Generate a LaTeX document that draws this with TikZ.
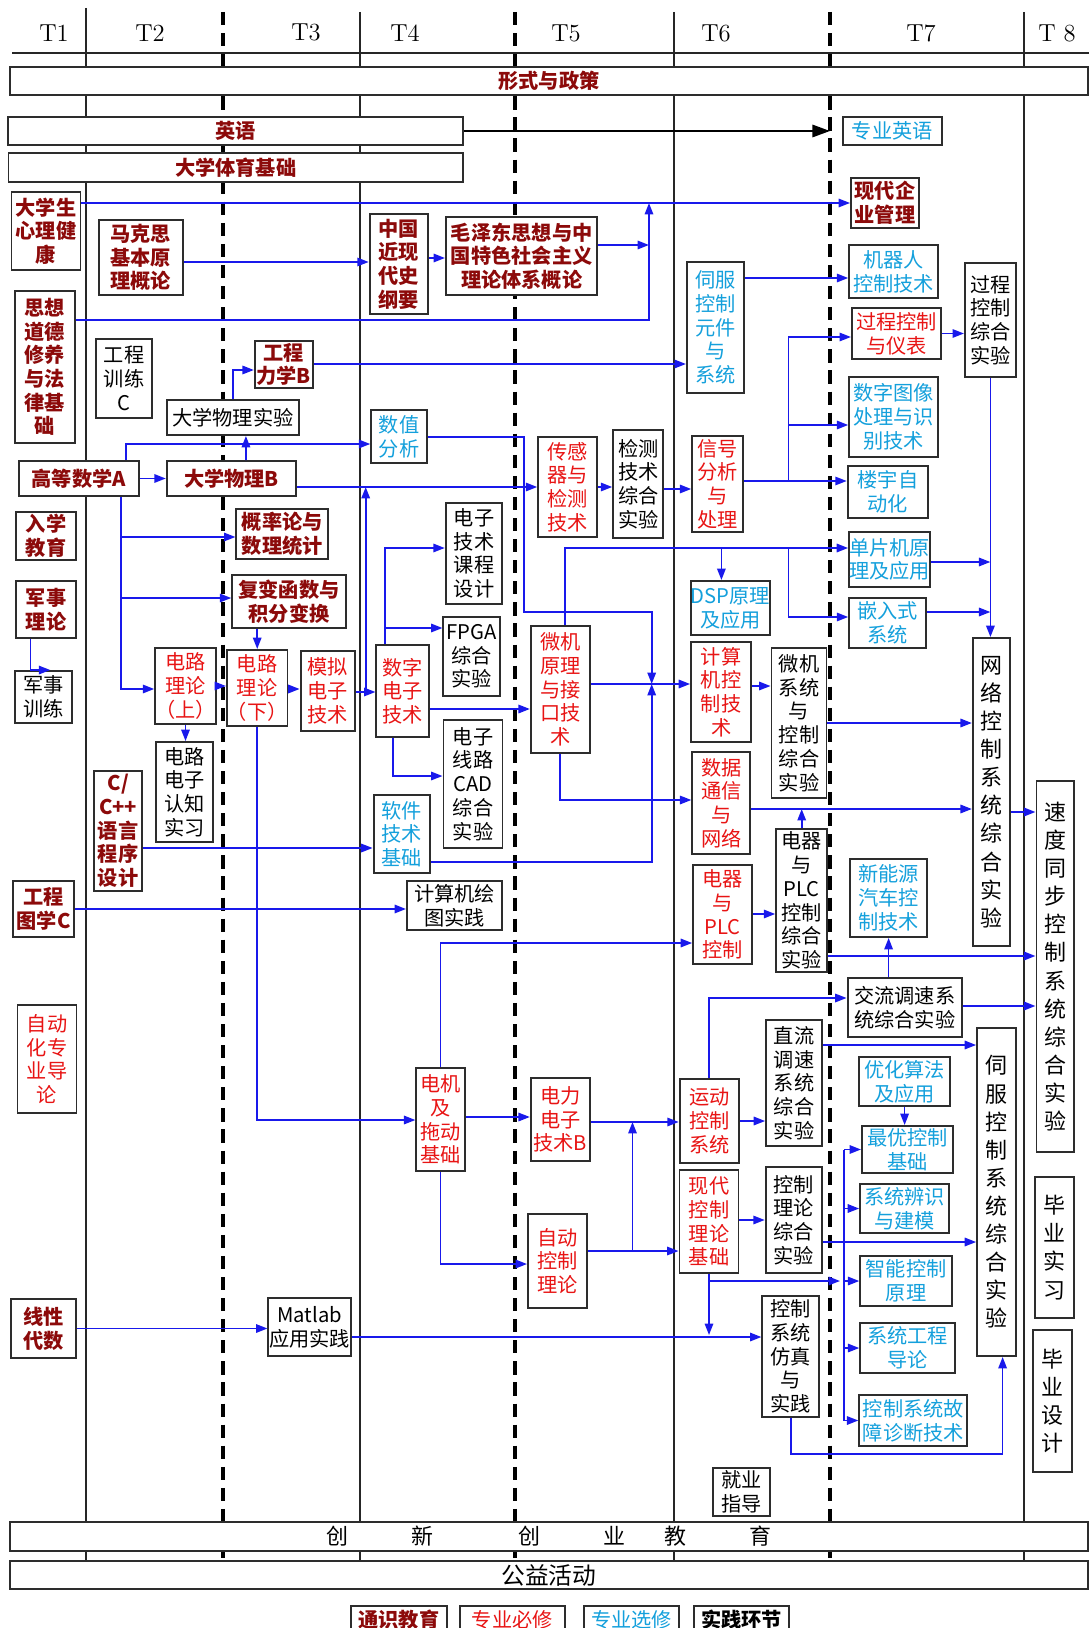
\documentclass[tikz,border=0pt]{standalone}
\usepackage{fontspec}
\newfontfamily\cjk{Noto Sans CJK SC}
\usepackage{tikz}
\usetikzlibrary{arrows.meta, positioning, calc, backgrounds}
\definecolor{genred}{RGB}{140, 10, 10}
\definecolor{corered}{RGB}{232, 20, 20}
\definecolor{electcyan}{RGB}{20, 160, 220}
\definecolor{flowblue}{RGB}{25, 25, 235}
\definecolor{boxgray}{RGB}{45, 45, 45}
\tikzset{
  >=Stealth,
  flowarrow/.style={-{Triangle[length=6.5pt, width=4.8pt]}, line width=1pt, flowblue},
  flowline/.style={line width=1pt, flowblue},
  bigarrow/.style={-{Triangle[length=10pt, width=7pt]}, line width=1.2pt, black},
  termline/.style={line width=0.9pt, black!85},
  termdash/.style={line width=2pt, black, dash pattern=on 7.5pt off 4.5pt}
}

\begin{document}
\begin{tikzpicture}[
    x=0.02cm, y=-0.02cm,
    course/.style={rectangle, draw=boxgray, line width=1.1pt, fill=white, align=center, inner sep=0pt, font=\cjk\fontsize{11.5}{13.5}\selectfont},
    general/.style={course, text=genred, font=\cjk\bfseries\fontsize{11.5}{13.5}\selectfont},
    core/.style={course, text=corered},
    elective/.style={course, text=electcyan},
    practice/.style={course, text=black},
    upright/.style={font=\cjk\fontsize{12.5}{16}\selectfont},
    term/.style={font=\fontsize{14}{16}\selectfont}
]
    \useasboundingbox (0,0) rectangle (1089,1628);

    % Semester header
    \node[term] (sem1) at (54,33) {T1};
    \node[term] (sem2) at (150,33) {T2};
    \node[term] (sem3) at (306,32) {T3};
    \node[term] (sem4) at (405,33) {T4};
    \node[term] (sem5) at (566,33) {T5};
    \node[term] (sem6) at (716,33) {T6};
    \node[term] (sem7) at (921,33) {T7};
    \node[term] (sem8) at (1057,33) {T 8};
    \coordinate (sem67) at (830,0);

    % Bars
    \node[general, minimum width=21.57cm, minimum height=0.56cm] (xszc) at (548.9,81) {形式与政策};
    \node[general, minimum width=9.11cm, minimum height=0.56cm] (yingyu) at (235.3,131) {英语};
    \node[general, minimum width=9.09cm, minimum height=0.58cm] (tiyu) at (235.7,167.5) {大学体育基础};
    \node[practice, font=\cjk\fontsize{12.5}{14}\selectfont, minimum width=21.57cm, minimum height=0.58cm] (cxcy) at (548.9,1536.5) {创\hspace{1.25cm}新\hspace{1.7cm}创\hspace{1.27cm}业\hspace{0.78cm}教\hspace{1.25cm}育};
    \node[practice, font=\cjk\fontsize{13.5}{15}\selectfont, minimum width=21.57cm, minimum height=0.56cm] (gyhd) at (548.9,1575) {公益活动};

    % T1 - T2
    \node[general, minimum width=1.38cm, minimum height=1.56cm] (xinli) at (46,231) {大学生\\心理健\\康};
    \node[general, minimum width=1.19cm, minimum height=3.04cm] (sixiang) at (44.9,367) {思想\\道德\\修养\\与法\\律基\\础};
    \node[general, minimum width=2.4cm, minimum height=0.7cm] (gaoshu) at (78.8,478.5) {高等数学A};
    \node[general, minimum width=1.19cm, minimum height=0.96cm] (ruxue) at (46,536) {入学\\教育};
    \node[general, minimum width=1.19cm, minimum height=1.14cm] (junli) at (46,609.5) {军事\\理论};
    \node[practice, minimum width=1.13cm, minimum height=1.04cm] (junxun) at (43.3,697) {军事\\训练};
    \node[general, minimum width=1.22cm, minimum height=1.12cm] (tuxue) at (43.6,909) {工程\\图学C};
    \node[core, minimum width=1.18cm, minimum height=2.16cm] (daolun) at (47,1059) {自动\\化专\\业导\\论};
    \node[general, minimum width=1.29cm, minimum height=1.18cm] (xianxing) at (43.3,1328.5) {线性\\代数};
    \node[general, minimum width=1.67cm, minimum height=1.5cm] (makesi) at (140.8,257.5) {马克思\\基本原\\理概论};
    \node[practice, minimum width=1.13cm, minimum height=1.58cm] (xunlian) at (124,378.5) {工程\\训练\\C};
    \node[practice, minimum width=2.64cm, minimum height=0.7cm] (wlsy) at (232.9,417.5) {大学物理实验};
    \node[general, minimum width=2.59cm, minimum height=0.7cm] (wuliB) at (231.5,478.5) {大学物理B};
    \node[core, minimum width=1.09cm, minimum height=1.52cm] (dianluS) at (185.5,686) {电路\\理论\\（上）};
    \node[practice, minimum width=1.13cm, minimum height=2cm] (renzhi) at (184.6,792) {电路\\电子\\认知\\实习};
    \node[general, minimum width=0.97cm, minimum height=2.4cm] (cyy) at (118.2,831) {C/\\C++\\语言\\程序\\设计};

    % T3 - T4
    \node[general, minimum width=1.16cm, minimum height=0.94cm] (lixueB) at (283.8,364.5) {工程\\力学B};
    \node[general, minimum width=1.84cm, minimum height=1cm] (gailv) at (282.4,534) {概率论与\\数理统计};
    \node[general, minimum width=2.27cm, minimum height=1.06cm] (fubian) at (289,601.5) {复变函数与\\积分变换};
    \node[core, minimum width=1.07cm, minimum height=1.52cm] (dianluX) at (257.2,688) {电路\\理论\\（下）};
    \node[core, minimum width=1.08cm, minimum height=1.6cm] (moni) at (327.6,691) {模拟\\电子\\技术};
    \node[practice, minimum width=1.65cm, minimum height=1.16cm] (matlab) at (309.7,1327) {Matlab\\应用实践};
    \node[general, minimum width=1.17cm, minimum height=2cm] (jindai) at (398.9,264) {中国\\近现\\代史\\纲要};
    \node[general, minimum width=3.03cm, minimum height=1.56cm] (maozd) at (521.7,256) {毛泽东思想与中\\国特色社会主义\\理论体系概论};
    \node[elective, minimum width=1.11cm, minimum height=1.06cm] (shuzhi) at (399,436.5) {数值\\分析};
    \node[core, minimum width=1.06cm, minimum height=1.84cm] (shuzi) at (402.9,691) {数字\\电子\\技术};
    \node[practice, minimum width=1.13cm, minimum height=2.02cm] (kcsj) at (474,553.5) {电子\\技术\\课程\\设计};
    \node[practice, minimum width=1.13cm, minimum height=1.58cm] (fpga) at (471.7,656.5) {FPGA\\综合\\实验};
    \node[practice, minimum width=1.18cm, minimum height=2.56cm] (cad) at (473,784) {电子\\线路\\CAD\\综合\\实验};
    \node[elective, minimum width=1.13cm, minimum height=1.56cm] (ruanjian) at (401.8,834) {软件\\技术\\基础};
    \node[practice, minimum width=1.91cm, minimum height=0.98cm] (huitu) at (454.7,905.5) {计算机绘\\图实践};
    \node[core, minimum width=0.97cm, minimum height=2.06cm] (dianji) at (440.6,1119.5) {电机\\及\\拖动\\基础};

    % T5 - T6
    \node[core, minimum width=1.18cm, minimum height=2cm] (chuangan) at (567.7,487) {传感\\器与\\检测\\技术};
    \node[practice, minimum width=1cm, minimum height=2.16cm] (jiance) at (638.2,484) {检测\\技术\\综合\\实验};
    \node[core, minimum width=1.18cm, minimum height=2.54cm] (weiji) at (560.3,689.5) {微机\\原理\\与接\\口技\\术};
    \node[core, minimum width=1.18cm, minimum height=1.66cm] (dianli) at (560.3,1119.5) {电力\\电子\\技术B};
    \node[core, minimum width=1.18cm, minimum height=1.88cm] (zidong) at (557.5,1261) {自动\\控制\\理论};
    \node[elective, minimum width=1.14cm, minimum height=2.62cm] (sifu) at (715.4,327.5) {伺服\\控制\\元件\\与\\系统};
    \node[core, minimum width=1.02cm, minimum height=1.92cm] (xinhao) at (717.7,484) {信号\\分析\\与\\处理};
    \node[elective, minimum width=1.52cm, minimum height=1.08cm] (dsp) at (730.4,608) {DSP原理\\及应用};
    \node[core, minimum width=1.2cm, minimum height=2cm] (jisuanji) at (721.1,692) {计算\\机控\\制技\\术};
    \node[core, minimum width=1.16cm, minimum height=2.04cm] (shuju) at (721.3,803) {数据\\通信\\与\\网络};
    \node[core, minimum width=1.18cm, minimum height=1.98cm] (dianqi) at (722.6,914.5) {电器\\与\\PLC\\控制};
    \node[core, minimum width=1.18cm, minimum height=1.68cm] (yundong) at (709.2,1121) {运动\\控制\\系统};
    \node[core, minimum width=1.18cm, minimum height=2.06cm] (xiandai) at (709,1221.5) {现代\\控制\\理论\\基础};
    \node[practice, minimum width=1.1cm, minimum height=3cm] (wjzh) at (799,723) {微机\\系统\\与\\控制\\综合\\实验};
    \node[practice, minimum width=1.02cm, minimum height=2.86cm] (plczh) at (801.7,900.5) {电器\\与\\PLC\\控制\\综合\\实验};
    \node[practice, minimum width=1.12cm, minimum height=2.52cm] (zhiliu) at (794.1,1083) {直流\\调速\\系统\\综合\\实验};
    \node[practice, minimum width=1.12cm, minimum height=2.12cm] (kzll) at (793.7,1220) {控制\\理论\\综合\\实验};
    \node[practice, minimum width=1.14cm, minimum height=2.42cm] (fangzhen) at (790.9,1356.5) {控制\\系统\\仿真\\与\\实践};
    \node[practice, minimum width=1.13cm, minimum height=0.96cm] (jiuye) at (741.3,1492) {就业\\指导};

    % T7 - T8
    \node[elective, minimum width=1.97cm, minimum height=0.56cm] (zyyy) at (892.3,131) {专业英语};
    \node[general, minimum width=1.36cm, minimum height=1cm] (xdqy) at (885,203) {现代企\\业管理};
    \node[elective, minimum width=1.78cm, minimum height=1.06cm] (jiqiren) at (893.7,271.5) {机器人\\控制技术};
    \node[core, minimum width=1.78cm, minimum height=1.02cm] (guocheng) at (896.4,333.5) {过程控制\\与仪表};
    \node[practice, minimum width=1.02cm, minimum height=2.28cm] (gczh) at (990.4,320) {过程\\控制\\综合\\实验};
    \node[elective, minimum width=1.78cm, minimum height=1.6cm] (tuxiang) at (893.7,417) {数字图像\\处理与识\\别技术};
    \node[elective, minimum width=1.61cm, minimum height=1.04cm] (louyu) at (887.9,492) {楼宇自\\动化};
    \node[elective, minimum width=1.62cm, minimum height=1.1cm] (danpian) at (889.6,559.5) {单片机原\\理及应用};
    \node[elective, minimum width=1.54cm, minimum height=1cm] (qianru) at (887.7,623) {嵌入式\\系统};
    \node[elective, minimum width=1.54cm, minimum height=1.56cm] (xinneng) at (888.6,898) {新能源\\汽车控\\制技术};
    \node[practice, minimum width=2.29cm, minimum height=1.18cm] (jiaoliu) at (904.8,1007.5) {交流调速系\\统综合实验};
    \node[elective, minimum width=1.81cm, minimum height=0.98cm] (youhua) at (904.6,1081.5) {优化算法\\及应用};
    \node[elective, minimum width=1.83cm, minimum height=0.94cm] (zuiyou) at (907.7,1149.5) {最优控制\\基础};
    \node[elective, minimum width=1.78cm, minimum height=0.98cm] (bianshi) at (904.6,1208.5) {系统辨识\\与建模};
    \node[elective, minimum width=1.83cm, minimum height=1cm] (zhineng) at (906,1281) {智能控制\\原理};
    \node[elective, minimum width=1.89cm, minimum height=1cm] (xtgc) at (907.5,1348) {系统工程\\导论};
    \node[elective, minimum width=2.16cm, minimum height=1.02cm] (guzhang) at (913.3,1420.5) {控制系统故\\障诊断技术};
    \node[practice, upright, minimum width=0.75cm, minimum height=6.16cm] (wangluo) at (991.6,792) {网\\络\\控\\制\\系\\统\\综\\合\\实\\验};
    \node[practice, upright, minimum width=0.78cm, minimum height=6.56cm] (sifuzh) at (996.6,1192) {伺\\服\\控\\制\\系\\统\\综\\合\\实\\验};
    \node[practice, upright, minimum width=0.75cm, minimum height=7.42cm] (sudu) at (1055.2,966.5) {速\\度\\同\\步\\控\\制\\系\\统\\综\\合\\实\\验};
    \node[practice, upright, minimum width=0.78cm, minimum height=2.82cm] (bysx) at (1054.6,1247.5) {毕\\业\\实\\习};
    \node[practice, upright, minimum width=0.78cm, minimum height=2.84cm] (bysj) at (1052.8,1401) {毕\\业\\设\\计};

    % Legend
    \node[general, minimum width=1.91cm, minimum height=0.56cm] (lgGen) at (398.9,1620) {通识教育};
    \node[core, minimum width=2.09cm, minimum height=0.56cm] (lgCore) at (512.3,1620) {专业必修};
    \node[elective, minimum width=1.89cm, minimum height=0.56cm] (lgElec) at (631.6,1620) {专业选修};
    \node[practice, font=\cjk\bfseries\fontsize{11.5}{13.5}\selectfont, minimum width=1.9cm, minimum height=0.56cm] (lgPrac) at (741.7,1620) {实践环节};

    % Join points
    \coordinate (mzJoin) at (649,203);
    \coordinate (xhJoin) at (788.5,481);
    \coordinate (jkJoin) at (651.7,684);
    \coordinate (mnJoin) at (365.7,692);
    \coordinate (zdJoin) at (632.5,1251);
    \coordinate (xdJoin) at (844,1281);
    \coordinate (gsDown) at ([xshift=0.84cm]gaoshu.south);
    \coordinate (szUp) at ([xshift=-0.36cm]shuzi.north);
    \coordinate (wjUp) at ([xshift=0.1cm]weiji.north);
    \coordinate (dspTop) at ([xshift=-0.18cm]dsp.north);

    % Arrows
    \draw[bigarrow] (yingyu.east) -- (sem67 |- yingyu.east);
    \draw[flowarrow] (xinli.east |- xdqy.west) -- (xdqy.west);
    \draw[flowarrow] (sixiang.east |- 0,320) -| (mzJoin);
    \draw[flowarrow] (maozd.east |- 0,245) -- (mzJoin |- 0,245);
    \draw[flowarrow] (makesi.east |- 0,262) -- (jindai.west |- 0,262);
    \draw[flowarrow] (jindai.east |- 0,258) -- (maozd.west |- 0,258);
    \draw[flowarrow] (wlsy.north) |- (lixueB.west |- 0,370);
    \draw[flowarrow] (lixueB.east |- 0,364) -- (sifu.west |- 0,364);
    \draw[flowarrow] (sifu.east |- 0,278) -- (jiqiren.west |- 0,278);
    \draw[flowarrow] (guocheng.east) -- (gczh.west |- guocheng.east);
    \draw[flowarrow] (xinhao.east |- xhJoin) -- (louyu.west |- xhJoin);
    \draw[flowarrow] (xhJoin) |- (guocheng.west |- 0,337);
    \draw[flowarrow] (xhJoin |- 0,425) -- (tuxiang.west |- 0,425);
    \draw[flowarrow] (gczh.south) -- (gczh.south |- wangluo.north);
    \draw[flowarrow] (danpian.east |- 0,562) -- (gczh.south |- 0,562);
    \draw[flowarrow] (qianru.east |- 0,612) -- (gczh.south |- 0,612);

    \draw[flowarrow] (gaoshu.east) -- (wuliB.west);
    \draw[flowarrow] ([xshift=0.29cm]wuliB.north) -- ([xshift=0.26cm]wlsy.south);
    \draw[flowarrow] ([xshift=0.95cm]gaoshu.north) |- (shuzhi.west |- 0,444);
    \draw[flowarrow] (shuzhi.east |- 0,437) -| (523.8,612) -| (jkJoin);
    \draw[flowarrow] (ruanjian.east |- 0,862) -| (jkJoin);
    \draw[flowarrow] (wuliB.east |- 0,487) -- (chuangan.west |- 0,487);
    \draw[flowarrow] (moni.east |- mnJoin) -- (shuzi.west |- mnJoin);
    \draw[flowarrow] (mnJoin) -- (mnJoin |- 0,487);
    \draw[flowarrow] (gsDown) |- (dianluS.west |- 0,689);
    \draw[flowarrow] (gsDown |- 0,537) -- (gailv.west |- 0,537);
    \draw[flowarrow] (gsDown |- 0,598) -- (fubian.west |- 0,598);
    \draw[flowarrow] (dianluX.north |- fubian.south) -- (dianluX.north);
    \draw[flowarrow] (dianluS.east) -- (dianluX.west |- dianluS.east);
    \draw[flowarrow] (dianluX.east |- 0,689) -- (moni.west |- 0,689);
    \draw[flowarrow] (dianluS.south) -- (dianluS.south |- renzhi.north);
    \draw[flowarrow] ([xshift=-0.31cm]junli.south) |- ([xshift=0.14cm]junxun.north);
    \draw[flowarrow] (szUp) |- (kcsj.west |- 0,548);
    \draw[flowarrow] (szUp |- 0,628) -- (fpga.west |- 0,628);
    \draw[flowarrow] (shuzi.east |- 0,709) -- (weiji.west |- 0,709);
    \draw[flowarrow] ([xshift=-0.2cm]shuzi.south) |- (cad.west |- 0,776);
    \draw[flowarrow] (cyy.east |- 0,848) -- (ruanjian.west |- 0,848);
    \draw[flowarrow] (tuxue.east) -- (huitu.west |- tuxue.east);
    \draw[flowarrow] (dianluX.south) |- (dianji.west |- 0,1120);
    \draw[flowarrow] (dianji.north) |- (dianqi.west |- 0,943);
    \draw[flowarrow] (dianji.east |- 0,1117) -- (dianli.west |- 0,1117);
    \draw[flowarrow] (dianji.south) |- (zidong.west |- 0,1264);

    \draw[flowarrow] (chuangan.east) -- (jiance.west |- chuangan.east);
    \draw[flowarrow] (jiance.east |- 0,489) -- (xinhao.west |- 0,489);
    \draw[flowarrow] (wjUp) |- (danpian.west |- 0,548);
    \draw[flowarrow] (dspTop |- 0,548) -- (dspTop);
    \draw[flowarrow] (xhJoin |- 0,548) |- (qianru.west |- 0,617);
    \draw[flowarrow] (weiji.east |- jkJoin) -- (jisuanji.west |- jkJoin);
    \draw[flowarrow] (jisuanji.east |- 0,686) -- (wjzh.west |- 0,686);
    \draw[flowarrow] (wjzh.east) -- (wangluo.west |- wjzh.east);
    \draw[flowarrow] (weiji.south) |- (shuju.west |- 0,800);
    \draw[flowarrow] (shuju.east |- 0,809) -- (wangluo.west |- 0,809);
    \draw[flowarrow] (plczh.north) -- (plczh.north |- 0,809);
    \draw[flowarrow] (wangluo.east |- 0,812) -- (sudu.west |- 0,812);
    \draw[flowarrow] (dianqi.east |- 0,914) -- (plczh.west |- 0,914);
    \draw[flowarrow] (plczh.east |- 0,956) -- (sudu.west |- 0,956);
    \draw[flowarrow] (xinneng.south |- jiaoliu.north) -- (xinneng.south);
    \draw[flowarrow] (jiaoliu.east |- 0,1006) -- (sudu.west |- 0,1006);
    \draw[flowarrow] (yundong.north) |- (jiaoliu.west |- 0,998);
    \draw[flowarrow] (yundong.east) -- (zhiliu.west |- yundong.east);
    \draw[flowarrow] (zhiliu.east |- 0,1045) -- (sifuzh.west |- 0,1045);
    \draw[flowarrow] (youhua.south) -- (youhua.south |- zuiyou.north);
    \draw[flowarrow] (dianli.east |- 0,1122) -- (yundong.west |- 0,1122);
    \draw[flowarrow] (zidong.east |- zdJoin) -- (xiandai.west |- zdJoin);
    \draw[flowarrow] (zdJoin) -- (zdJoin |- 0,1122);
    \draw[flowarrow] (xiandai.east |- 0,1220) -- (kzll.west |- 0,1220);
    \draw[flowarrow] (kzll.east |- 0,1242) -- (sifuzh.west |- 0,1242);
    \draw[flowarrow] (xiandai.south) -- (xiandai.south |- 0,1335);
    \draw[flowarrow] (xiandai.south |- xdJoin) -- ([xshift=-0.08cm]xdJoin);
    \draw[flowline] (xdJoin |- zuiyou.west) -- (xdJoin |- guzhang.west);
    \draw[flowarrow] (xdJoin |- zuiyou.west) -- (zuiyou.west);
    \draw[flowarrow] (xdJoin |- bianshi.west) -- (bianshi.west);
    \draw[flowarrow] (xdJoin |- zhineng.west) -- (zhineng.west);
    \draw[flowarrow] (xdJoin |- xtgc.west) -- (xtgc.west);
    \draw[flowarrow] (xdJoin |- guzhang.west) -- (guzhang.west);
    \draw[flowarrow] (xianxing.east) -- (matlab.west |- xianxing.east);
    \draw[flowarrow] (matlab.east |- 0,1337) -- (fangzhen.west |- 0,1337);
    \draw[flowarrow] (fangzhen.south) -- ++(0,36) -| ([xshift=0.12cm]sifuzh.south);

    % Semester grid
    \begin{scope}[on background layer]
        \draw[termline] (12,53) -- (1089,53);
        \draw[termline] (86,8) -- (86,1561);
        \draw[termdash] (223,12) -- (223,1558);
        \draw[termline] (360,12) -- (360,1561);
        \draw[termdash] (515,12) -- (515,1558);
        \draw[termline] (674,12) -- (674,1561);
        \draw[termdash] (830,12) -- (830,1558);
        \draw[termline] (1024,12) -- (1024,1561);
    \end{scope}
\end{tikzpicture}
\end{document}
